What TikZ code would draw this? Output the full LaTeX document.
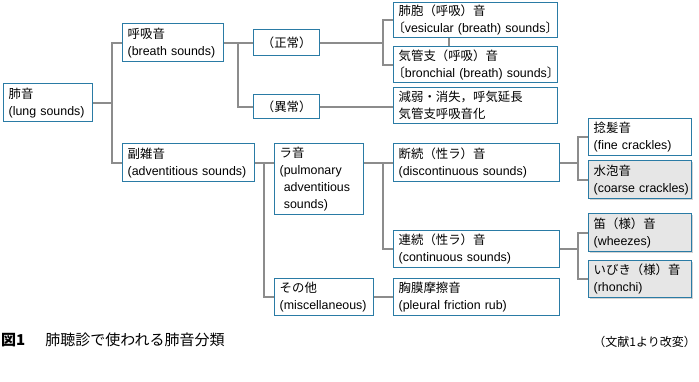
\documentclass[tikz,border=0pt]{standalone}
\usepackage{fontspec}
\setmainfont{Liberation Sans}
\newfontfamily\jp{Noto Sans CJK JP}
\newfontfamily\jph[RawFeature=+halt]{Noto Sans CJK JP}
\newcommand\J[1]{{\jp #1}}
\newcommand\JH[1]{{\jph #1}}
\newcommand\Ln[1]{\mbox{#1}}
\usetikzlibrary{shadows}
\definecolor{bordc}{HTML}{2A7BA5}
\definecolor{connc}{HTML}{8C8C8C}
\definecolor{grayf}{HTML}{E6E6E6}
\tikzset{
  bx/.style={draw=bordc, line width=1.4pt, fill=white, anchor=north west,
    inner xsep=5pt, inner ysep=0pt, align=left,
    font=\fontsize{12.4}{17}\selectfont},
  gbx/.style={bx, fill=grayf, drop shadow={shadow xshift=1.2pt, shadow yshift=-1.2pt, opacity=0.35}},
  conn/.style={draw=connc, line width=2.2pt}
}
\begin{document}
\begin{tikzpicture}[x=1pt,y=-1pt]
\useasboundingbox (0,0) rectangle (699,382);
% boxes
\node[bx, text width=79pt, minimum height=38pt] (lung) at (3,83) {\J{肺音}\\\Ln{(lung sounds)}};
\node[bx, text width=91pt, minimum height=38pt] (breath) at (122,23) {\J{呼吸音}\\\Ln{(breath sounds)}};
\node[bx, text width=122pt, minimum height=38pt] (adv) at (122,143) {\J{副雑音}\\\Ln{(adventitious sounds)}};
\node[bx, text width=56pt, minimum height=26pt, align=center] (normal) at (253,29) {\J{（正常）}};
\node[bx, text width=56pt, minimum height=24pt, align=center] (abnormal) at (253,94) {\J{（異常）}};
\node[bx, text width=154pt, minimum height=35pt] (vesic) at (393,2) {\J{肺胞（呼吸）音}\\\Ln{\JH{〔}vesicular (breath) sounds\JH{〕}}};
\node[bx, text width=154pt, minimum height=36pt] (bronch) at (393,46) {\J{気管支（呼吸）音}\\\Ln{\JH{〔}bronchial (breath) sounds\JH{〕}}};
\node[bx, text width=154pt, minimum height=36pt] (reduced) at (393,87) {\J{減弱・消失，呼気延長}\\\J{気管支呼吸音化}};
\node[bx, text width=79pt, minimum height=71pt] (ra) at (274,143) {\J{ラ音}\\\Ln{(pulmonary}\\\Ln{\phantom{(}adventitious}\\\Ln{\phantom{(}sounds)}};
\node[bx, text width=89pt, minimum height=37pt] (misc) at (274,278) {\J{その他}\\\Ln{(miscellaneous)}};
\node[bx, text width=156pt, minimum height=38pt] (disc) at (393,143) {\J{断続（性ラ）音}\\\Ln{(discontinuous sounds)}};
\node[bx, text width=156pt, minimum height=37pt] (cont) at (393,230) {\J{連続（性ラ）音}\\\Ln{(continuous sounds)}};
\node[bx, text width=156pt, minimum height=37pt] (pleural) at (393,278) {\J{胸膜摩擦音}\\\Ln{(pleural friction rub)}};
\node[bx, text width=93pt, minimum height=37pt] (fine) at (588,118) {\J{捻髪音}\\\Ln{(fine crackles)}};
\node[gbx, text width=93pt, minimum height=38pt] (coarse) at (588,160) {\J{水泡音}\\\Ln{(coarse crackles)}};
\node[gbx, text width=93pt, minimum height=38pt] (wheeze) at (588,213) {\J{笛（様）音}\\\Ln{(wheezes)}};
\node[gbx, text width=93pt, minimum height=37pt] (rhonchi) at (588,260) {\J{いびき（様）音}\\\Ln{(rhonchi)}};
% junctions
\coordinate (jA) at (112,0);
\coordinate (jB) at (238,0);
\coordinate (jC) at (383,0);
\coordinate (jD) at (264,0);
\coordinate (jE) at (383,0);
\coordinate (jF) at (578,0);
% connectors
\draw[conn] (lung.east) -- (lung.east -| jA);
\draw[conn] (breath.west) -| (jA |- adv.west) -- (adv.west);
\draw[conn] (breath.east) -- (normal.west);
\draw[conn] (jB |- breath.east) |- (abnormal.west);
\draw[conn] (normal.east) -- (jC |- normal.east);
\draw[conn] (vesic.west) -| (jC |- bronch.west) -- (bronch.west);
\draw[conn] ([xshift=-27pt]vesic.south) -- ([xshift=-27pt]bronch.north);
\draw[conn] (abnormal.east) -- (abnormal.east -| reduced.west);
\draw[conn] (adv.east) -- (adv.east -| ra.west);
\draw[conn] (jD |- adv.east) |- (misc.west);
\draw[conn] (disc.west -| ra.east) -- (disc.west);
\draw[conn] (jE |- disc.west) |- (cont.west);
\draw[conn] (misc.east) -- (misc.east -| pleural.west);
\draw[conn] (disc.east) -- (disc.east -| jF);
\draw[conn] (fine.west) -| (jF |- coarse.west) -- (coarse.west);
\draw[conn] (cont.east) -- (cont.east -| jF);
\draw[conn] (wheeze.west) -| (jF |- rhonchi.west) -- (rhonchi.west);
% caption
\node[anchor=west, inner sep=0pt, font=\fontsize{15}{15}\selectfont] (cap) at (1,340) {\J{\textbf{図1}}\hspace{20pt}\J{肺聴診で使われる肺音分類}};
\node[anchor=east, inner sep=0pt, font=\fontsize{12}{12}\selectfont] (src) at (690,342) {\JH{（文献1より改変）}};
\end{tikzpicture}
\end{document}
